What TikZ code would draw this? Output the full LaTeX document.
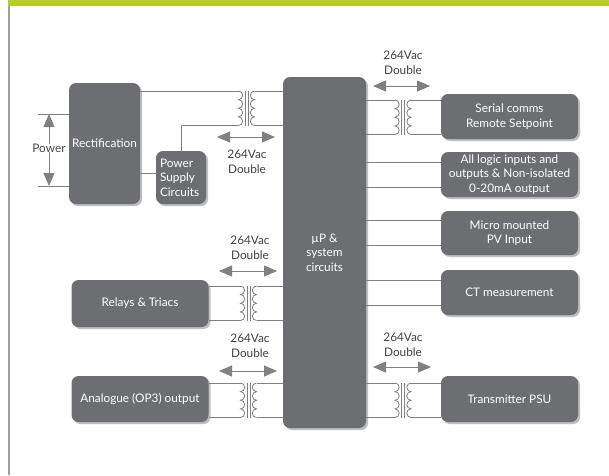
\documentclass[tikz,border=0pt]{standalone}
\usepackage{fontspec}
\setmainfont{Lato}
\usetikzlibrary{arrows.meta,shadows,calc}
\definecolor{boxgrey}{RGB}{109,110,113}
\definecolor{shadowgrey}{RGB}{190,190,192}
\definecolor{wiregrey}{RGB}{128,128,130}
\definecolor{textgrey}{RGB}{65,64,66}
\definecolor{framegrey}{RGB}{160,160,162}
\definecolor{limegreen}{RGB}{182,205,40}

\tikzset{
  block/.style={fill=boxgrey,rounded corners=7pt,text=white,align=center,inner sep=1pt,
    font=\fontsize{11.8}{14.6}\selectfont,
    drop shadow={shadow xshift=2pt,shadow yshift=-2pt,fill=shadowgrey,opacity=1}},
  wire/.style={draw=wiregrey,line width=0.8pt},
  isoarrow/.style={draw=wiregrey,line width=0.8pt,
    {Triangle[length=13pt,width=11pt]}-{Triangle[length=13pt,width=11pt]}},
  powarrow/.style={draw=wiregrey,line width=0.8pt,-{Triangle[length=13pt,width=11pt]}},
  rating/.style={text=textgrey,align=center,inner sep=0pt,font=\fontsize{11.8}{14.6}\selectfont},
  pics/xfmr/.style={code={
    \coordinate (-lt) at (-8,0);
    \coordinate (-lb) at (-8,34.5);
    \coordinate (-rt) at (8,0);
    \coordinate (-rb) at (8,34.5);
    \draw[wire] (-lt) \foreach \k in {1,...,4}{arc[start angle=90,end angle=-90,x radius=4.2pt,y radius=4.3125pt]};
    \draw[wire] (-rt) \foreach \k in {1,...,4}{arc[start angle=90,end angle=270,x radius=4.2pt,y radius=4.3125pt]};
    \draw[wire] (-1.5,0) -- (-1.5,34.5) (1.5,0) -- (1.5,34.5);
  }}
}

\begin{document}
\begin{tikzpicture}[x=1pt,y=-1pt]
        \useasboundingbox (0,0) rectangle (609,475);
        \fill[framegrey] (7.5,0) rectangle (9.5,475);
        \fill[limegreen] (8,0) rectangle (609,6);

        \coordinate (ptl) at (38,114);
        \coordinate (pbl) at (38,186);
        \coordinate (pscin) at (157,173);
        \coordinate (i1-l) at (217,137);
        \coordinate (i1-r) at (275,137);
        \coordinate (i2-l) at (373,86);
        \coordinate (i2-r) at (430,86);
        \coordinate (i3-l) at (219,271);
        \coordinate (i3-r) at (277,271);
        \coordinate (i4-l) at (219,371);
        \coordinate (i4-r) at (277,371);
        \coordinate (i5-l) at (373,367);
        \coordinate (i5-r) at (431,367);

        \node[block,minimum width=71pt,minimum height=121pt] (rect) at (104.5,143.5) {Rectification};
        \node[block,minimum height=53pt,inner xsep=4pt,text width=42pt,align=left] (psc) at (181,177.5) {Power\\Supply\\Circuits};
        \node[block,minimum width=83pt,minimum height=351pt] (mu) at (324.5,252.5) {µP \&\\system\\circuits};
        \node[block,minimum width=137pt,minimum height=45pt] (serial) at (509.5,116.5) {Serial comms\\Remote Setpoint};
        \node[block,minimum width=137pt,minimum height=45pt] (logic) at (509.5,174.5) {All logic inputs and\\outputs \& Non-isolated\\0-20mA output};
        \node[block,minimum width=137pt,minimum height=44pt] (micro) at (509.5,233) {Micro mounted\\PV Input};
        \node[block,minimum width=137pt,minimum height=45pt] (ct) at (509.5,292.5) {CT measurement};
        \node[block,minimum width=137pt,minimum height=46pt] (tpsu) at (509.5,399) {Transmitter PSU};
        \node[block,minimum width=137pt,minimum height=47pt] (relays) at (140,303.5) {Relays \& Triacs};
        \node[block,minimum width=137pt,minimum height=46pt] (analogue) at (140,399) {Analogue (OP3) output};

        \node[rating] (pwr) at (49,148) {Power};
        \node[rating] (rate1) at (247,162) {264Vac\\Double};
        \node[rating] (rate2) at (403,63) {264Vac\\Double};
        \node[rating] (rate3) at (250,248) {264Vac\\Double};
        \node[rating] (rate4) at (250,345.5) {264Vac\\Double};
        \node[rating] (rate5) at (403,344.5) {264Vac\\Double};

        \pic (t1) at (246.5,91) {xfmr};
        \pic (t2) at (403,100) {xfmr};
        \pic (t3) at (248.5,286) {xfmr};
        \pic (t4) at (248.5,383) {xfmr};
        \pic (t5) at (403,383) {xfmr};

        \draw[wire] (ptl) -- (rect.west |- ptl);
        \draw[wire] (pbl) -- (rect.west |- pbl);
        \draw[powarrow] (pwr.north) -- (pwr.north |- ptl);
        \draw[powarrow] (pwr.south) -- (pwr.south |- pbl);

        \draw[wire] (rect.east |- t1-lt) -- (t1-lt);
        \draw[wire] (psc.north) -- (psc.north |- t1-lb) -- (t1-lb);
        \draw[wire] (rect.east |- pscin) -- (pscin);
        \draw[wire] (t1-rt) -- (mu.west |- t1-rt);
        \draw[wire] (t1-rb) -- (mu.west |- t1-rb);

        \draw[wire] (mu.east |- t2-lt) -- (t2-lt);
        \draw[wire] (mu.east |- t2-lb) -- (t2-lb);
        \draw[wire] (t2-rt) -- (serial.west |- t2-rt);
        \draw[wire] (t2-rb) -- (serial.west |- t2-rb);

        \foreach \b in {logic,micro,ct}{
          \draw[wire] ($(\b.west)+(0,-12.5)$) -- ($(mu.east |- \b.west)+(0,-12.5)$);
          \draw[wire] ($(\b.west)+(0,12.5)$) -- ($(mu.east |- \b.west)+(0,12.5)$);
        }

        \draw[wire] (mu.east |- t5-lt) -- (t5-lt);
        \draw[wire] (mu.east |- t5-lb) -- (t5-lb);
        \draw[wire] (t5-rt) -- (tpsu.west |- t5-rt);
        \draw[wire] (t5-rb) -- (tpsu.west |- t5-rb);

        \draw[wire] (relays.east |- t3-lt) -- (t3-lt);
        \draw[wire] (relays.east |- t3-lb) -- (t3-lb);
        \draw[wire] (t3-rt) -- (mu.west |- t3-rt);
        \draw[wire] (t3-rb) -- (mu.west |- t3-rb);

        \draw[wire] (analogue.east |- t4-lt) -- (t4-lt);
        \draw[wire] (analogue.east |- t4-lb) -- (t4-lb);
        \draw[wire] (t4-rt) -- (mu.west |- t4-rt);
        \draw[wire] (t4-rb) -- (mu.west |- t4-rb);

        \foreach \i in {1,...,5}
          \draw[isoarrow] (i\i-l) -- (i\i-r);
\end{tikzpicture}
\end{document}
